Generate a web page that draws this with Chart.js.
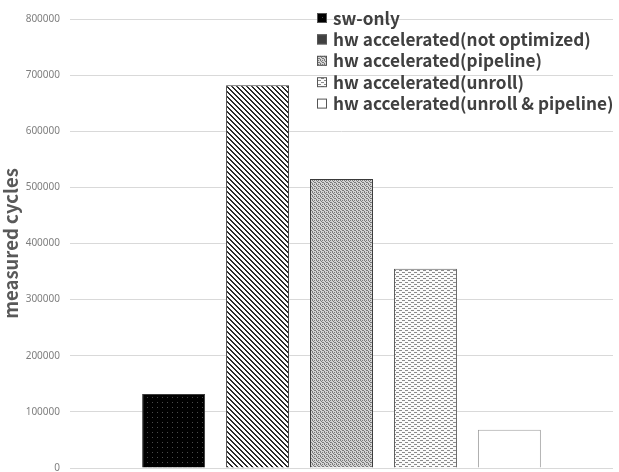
<!DOCTYPE html>
<html>
<head>
  <meta charset="utf-8">
  <title>measured cycles</title>
  <script src="https://cdn.jsdelivr.net/npm/chart.js"></script>
  <style>
    body { margin: 0; background: #fff; }
    #wrap { width: 619px; height: 472px; }
  </style>
</head>
<body>
  <div id="wrap"><canvas id="chart"></canvas></div>
  <script>
    const categories = [''];
    const seriesLabels = [
      'sw-only',
      'hw accelerated(not optimized)',
      'hw accelerated(pipeline)',
      'hw accelerated(unroll)',
      'hw accelerated(unroll & pipeline)'
    ];
    const seriesValues = [132000, 682000, 515000, 355000, 68000];
    const yTicks = { min: 0, max: 800000, step: 100000 };

    // small tile patterns, like office-style pattern fills
    function tile(w, h, draw) {
      const c = document.createElement('canvas');
      c.width = w; c.height = h;
      const g = c.getContext('2d');
      draw(g);
      return c;
    }
    const ctx0 = document.createElement('canvas').getContext('2d');
    const patDots = ctx0.createPattern(tile(5, 5, g => {
      g.fillStyle = '#000'; g.fillRect(0, 0, 5, 5);
      g.fillStyle = '#4a4a4a'; g.fillRect(2, 2, 1, 1);
    }), 'repeat');
    const patDiag = ctx0.createPattern(tile(5, 5, g => {
      g.fillStyle = '#fff'; g.fillRect(0, 0, 5, 5);
      g.fillStyle = '#2a2a2a';
      for (let i = 0; i < 5; i++) {
        g.fillRect(i, i, 1, 1);
        g.fillRect((i + 1) % 5, i, 1, 1);
      }
    }), 'repeat');
    const patGrid = ctx0.createPattern(tile(4, 4, g => {
      g.fillStyle = '#d4d4d4'; g.fillRect(0, 0, 4, 4);
      g.fillStyle = '#7a7a7a';
      g.fillRect(0, 0, 1, 1); g.fillRect(2, 0, 1, 1);
      g.fillRect(1, 1, 1, 1); g.fillRect(3, 2, 1, 1);
      g.fillRect(0, 3, 1, 1); g.fillRect(2, 2, 1, 1);
    }), 'repeat');
    const patDash = ctx0.createPattern(tile(6, 4, g => {
      g.fillStyle = '#fafafa'; g.fillRect(0, 0, 6, 4);
      g.fillStyle = '#8a8a8a';
      g.fillRect(0, 0, 3, 1);
      g.fillRect(3, 2, 3, 1);
    }), 'repeat');

    const fills = [patDots, patDiag, patGrid, patDash, '#ffffff'];
    const legendBoxes = [patDots, '#404040', patGrid, patDash, '#ffffff'];
    const borders = ['#3a3a3a', '#3a3a3a', '#3a3a3a', '#555555', '#a0a0a0'];

    const legendPlugin = {
      id: 'sideLegend',
      afterDraw(chart) {
        const c = chart.ctx;
        c.save();
        c.font = 'bold 17.2px "Noto Sans CJK KR", "Noto Sans", sans-serif';
        c.textBaseline = 'middle';
        seriesLabels.forEach((lab, i) => {
          const y = 18 + i * 21.4;
          c.fillStyle = legendBoxes[i];
          c.fillRect(317, y - 5, 10, 10);
          c.strokeStyle = '#555';
          c.lineWidth = 1;
          c.strokeRect(317.5, y - 4.5, 9, 9);
          c.fillStyle = '#404040';
          c.fillText(lab, 333, y);
        });
        c.restore();
      }
    };

    new Chart(document.getElementById('chart'), {
      type: 'bar',
      data: {
        labels: categories,
        datasets: seriesLabels.map((lab, i) => ({
          label: lab,
          data: [seriesValues[i]],
          backgroundColor: fills[i],
          borderColor: borders[i],
          borderWidth: 1,
          categoryPercentage: 0.773,
          barPercentage: 0.75
        }))
      },
      options: {
        responsive: true,
        maintainAspectRatio: false,
        animation: false,
        layout: { padding: { top: 19, right: 6, bottom: 4, left: 0 } },
        plugins: {
          legend: { display: false },
          tooltip: { enabled: false }
        },
        scales: {
          x: { display: false },
          y: {
            min: yTicks.min,
            max: yTicks.max,
            ticks: {
              stepSize: yTicks.step,
              color: '#7f7f7f',
              padding: 0,
              font: { size: 10, lineHeight: 0.8, family: '"Noto Sans", sans-serif' },
              callback: v => String(v)
            },
            grid: { color: '#d9d9d9', drawTicks: true, tickLength: 10, tickColor: 'rgba(0,0,0,0)' },
            border: { display: false },
            title: {
              display: true,
              text: 'measured cycles',
              color: '#595959',
              padding: { top: 0, bottom: 4 },
              font: { size: 18.5, weight: 'bold', family: '"Noto Sans CJK KR", "Noto Sans", sans-serif' }
            },
            afterFit(axis) { axis.width = 70; }
          }
        }
      },
      plugins: [legendPlugin]
    });
  </script>
</body>
</html>
